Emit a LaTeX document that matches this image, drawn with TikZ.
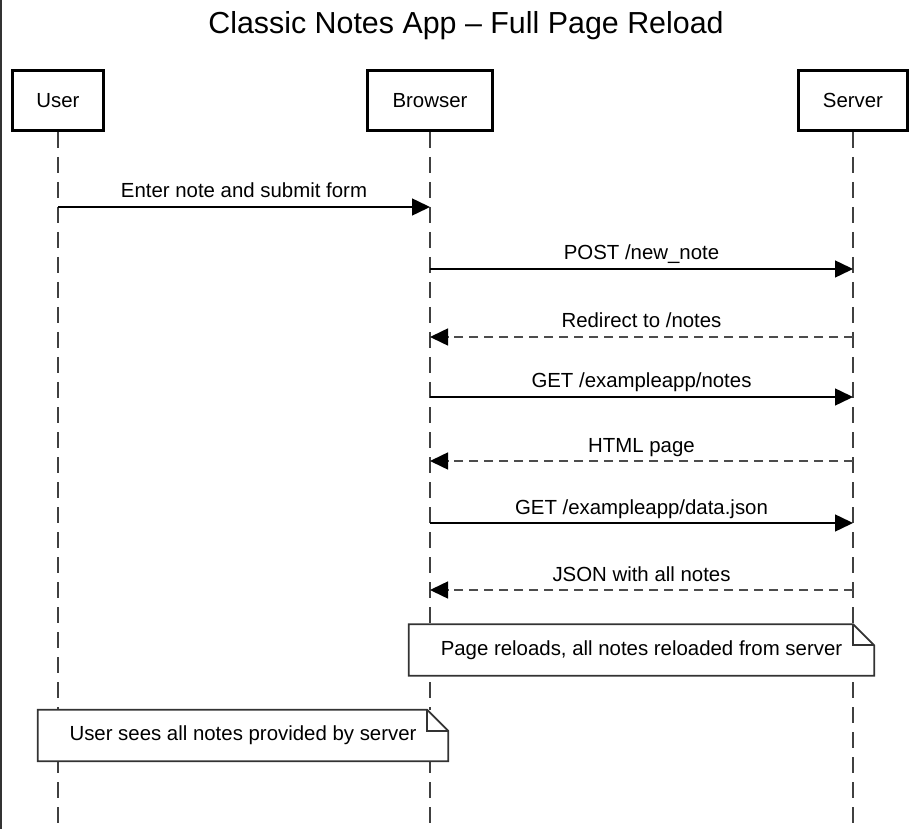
\documentclass[tikz,border=0pt]{standalone}
\usepackage{fontspec}
\setmainfont{Liberation Sans}
\usetikzlibrary{arrows.meta}

\tikzset{
  actor/.style={draw, line width=3pt, fill=white, minimum height=60pt, inner sep=0pt,
    font=\fontsize{20.4}{24}\selectfont},
  lifeline/.style={draw=black!75, line width=2pt, dash pattern=on 16pt off 9pt},
  call/.style={-{Triangle[length=18pt,width=17pt]}, line width=1.5pt},
  reply/.style={-{Triangle[length=18pt,width=17pt,color=black]}, line width=1.5pt,
    draw=black!70, dash pattern=on 9pt off 6pt},
  msg/.style={anchor=base, yshift=9pt, text=black, font=\fontsize{20.4}{24}\selectfont},
  note/.style={fill=white, minimum height=51pt, inner sep=0pt, font=\fontsize{20.4}{24}\selectfont},
  notebox/.style={draw=black!80, line width=1.8pt, line join=miter}
}

\begin{document}
\begin{tikzpicture}[x=1pt, y=-1pt]
  \useasboundingbox (0,0) rectangle (914,829);

  % Left frame edge
  \draw[black!80, line width=2.5pt] (1,0) -- (1,829);

  % Title
  \node[anchor=base, font=\fontsize{30.4}{36}\selectfont] (title) at (466,34)
    {Classic Notes App -- Full Page Reload};

  % Participants
  \node[actor, minimum width=91pt] (user) at (58,100.5) {User};
  \node[actor, minimum width=125pt] (browser) at (430,100.5) {Browser};
  \node[actor, minimum width=109pt] (server) at (853,100.5) {Server};

  % Lifelines
  \foreach \p in {user,browser,server}
    \draw[lifeline] (\p.south) -- (\p |- 0,829);

  % Message rows
  \foreach \n/\y in {1/207,2/269,3/337,4/397,5/461,6/523,7/590}
    \coordinate (m\n) at (0,\y);

  % Messages
  \draw[call] (user |- m1) -- (browser |- m1) node[midway, msg] {Enter note and submit form};
  \draw[call] (browser |- m2) -- (server |- m2) node[midway, msg] {POST /new\_note};
  \draw[reply] (server |- m3) -- (browser |- m3) node[midway, msg] {Redirect to /notes};
  \draw[call] (browser |- m4) -- (server |- m4) node[midway, msg] {GET /exampleapp/notes};
  \draw[reply] (server |- m5) -- (browser |- m5) node[midway, msg] {HTML page};
  \draw[call] (browser |- m6) -- (server |- m6) node[midway, msg] {GET /exampleapp/data.json};
  \draw[reply] (server |- m7) -- (browser |- m7) node[midway, msg] {JSON with all notes};

  % Notes
  \node[note, minimum width=465pt] (reload) at (641.5,650)
    {Page reloads, all notes reloaded from server};
  \draw[notebox] (reload.north west) -- ([xshift=-21pt]reload.north east)
    -- ([yshift=-21pt]reload.north east) -- (reload.south east) -- (reload.south west) -- cycle;
  \draw[notebox] ([xshift=-21pt]reload.north east) -- ([xshift=-21pt,yshift=-21pt]reload.north east)
    -- ([yshift=-21pt]reload.north east);

  \node[note, minimum width=410pt] (sees) at (243,735.5)
    {User sees all notes provided by server};
  \draw[notebox] (sees.north west) -- ([xshift=-21pt]sees.north east)
    -- ([yshift=-21pt]sees.north east) -- (sees.south east) -- (sees.south west) -- cycle;
  \draw[notebox] ([xshift=-21pt]sees.north east) -- ([xshift=-21pt,yshift=-21pt]sees.north east)
    -- ([yshift=-21pt]sees.north east);
\end{tikzpicture}
\end{document}
